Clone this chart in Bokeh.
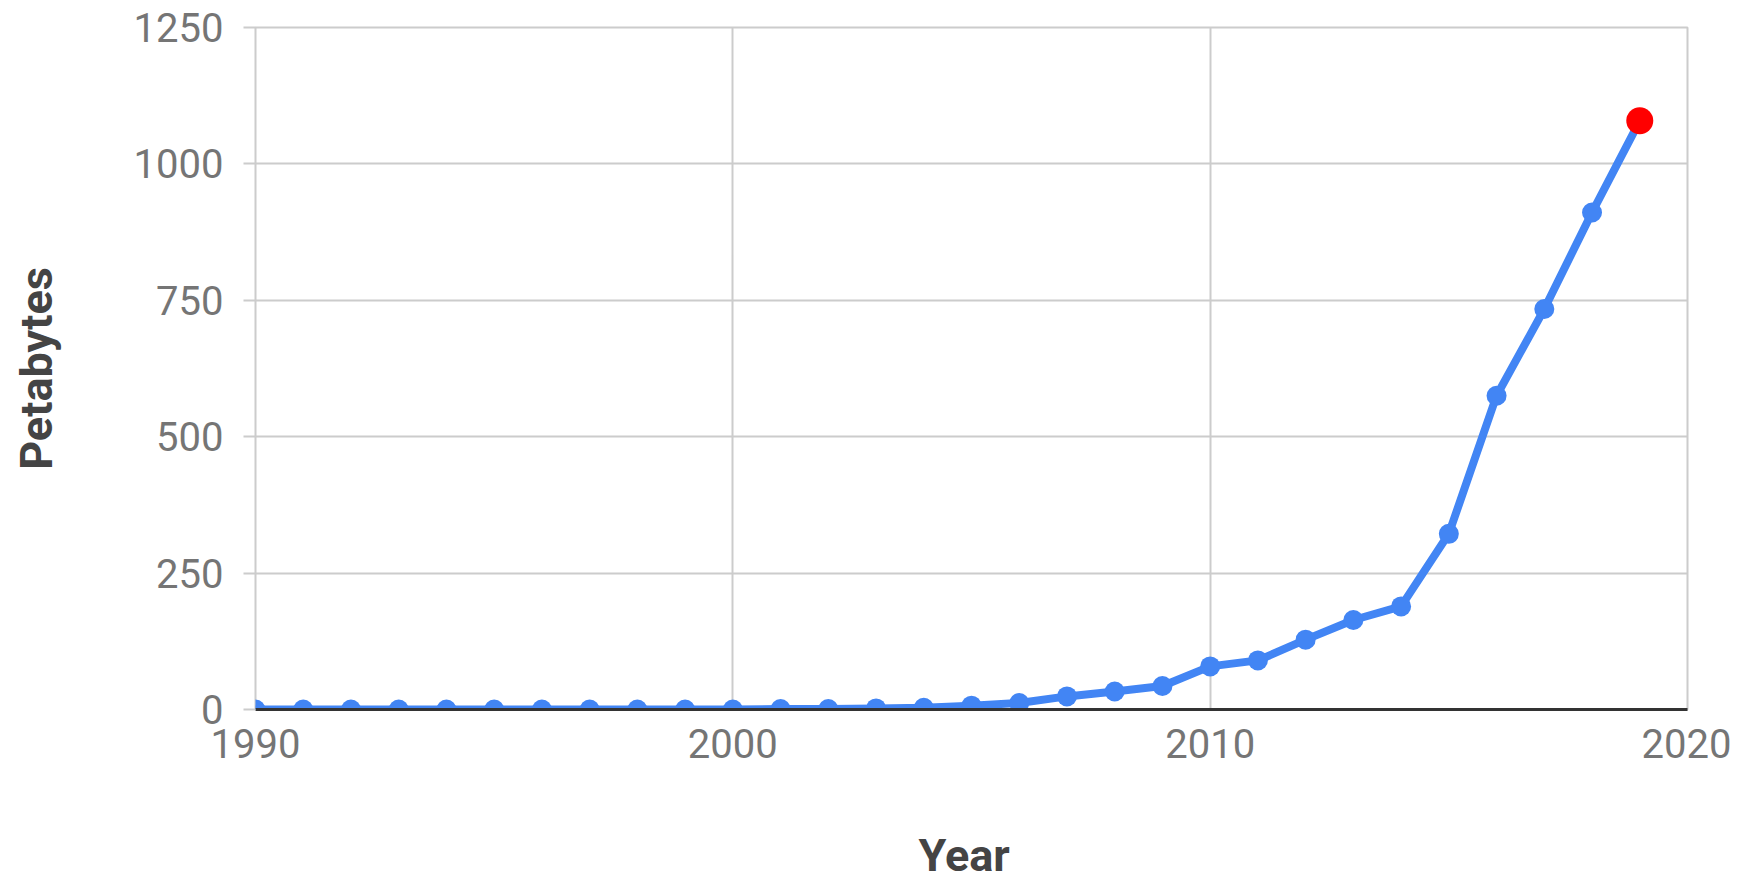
from bokeh.plotting import figure
from bokeh.models import Range1d, FixedTicker, Title, LinearAxis
from bokeh.embed import file_html
from bokeh.resources import INLINE

years = [1990, 1991, 1992, 1993, 1994, 1995, 1996, 1997, 1998, 1999,
         2000, 2001, 2002, 2003, 2004, 2005, 2006, 2007, 2008, 2009,
         2010, 2011, 2012, 2013, 2014, 2015, 2016, 2017, 2018, 2019]
petabytes = [0, 0, 0, 0, 0, 0, 0, 0, 0, 0,
             0, 1, 1, 2, 3, 7, 12, 24, 33, 43,
             79, 90, 128, 164, 189, 322, 575, 734, 911, 1079]
x_ticks = [1990, 2000, 2010, 2020]
y_ticks = [0, 250, 500, 750, 1000, 1250]
x_title = "Year"
y_title = "Petabytes"

FONT = "Roboto"
BLUE = "#4285F4"
RED = "#FF0000"
GRID = "#cccccc"

p = figure(frame_width=1432, frame_height=682, output_backend="svg",
           toolbar_location=None,
           x_range=Range1d(x_ticks[0], x_ticks[-1]),
           y_range=Range1d(y_ticks[0], y_ticks[-1]),
           min_border_left=255, min_border_right=44, min_border_top=27,
           min_border_bottom=183)
p.background_fill_color = "white"
p.border_fill_color = "white"
p.outline_line_color = GRID
p.outline_line_width = 2

# grids
p.xgrid.ticker = FixedTicker(ticks=x_ticks)
p.ygrid.ticker = FixedTicker(ticks=y_ticks)
for g in (p.xgrid[0], p.ygrid[0]):
    g.grid_line_color = GRID
    g.grid_line_width = 2

# x axis
xa = p.xaxis[0]
xa.ticker = FixedTicker(ticks=x_ticks)
xa.axis_line_color = "#333333"
xa.axis_line_width = 3
xa.major_tick_out = 0
xa.major_tick_in = 0
xa.minor_tick_out = 0
xa.minor_tick_in = 0
xa.major_label_standoff = 19
xa.major_label_text_font = FONT
xa.major_label_text_font_size = "40px"
xa.major_label_text_color = "#757575"

# y axis with tick labels
ya = p.yaxis[0]
ya.ticker = FixedTicker(ticks=y_ticks)
ya.axis_line_color = None
ya.major_tick_out = 12
ya.major_tick_in = 0
ya.major_tick_line_color = GRID
ya.major_tick_line_width = 2
ya.minor_tick_out = 0
ya.minor_tick_in = 0
ya.major_label_standoff = 20
ya.major_label_text_font = FONT
ya.major_label_text_font_size = "40px"
ya.major_label_text_color = "#757575"

# second (title-only) left axis; its bounds put the title a bit below
# the middle of the plot, as in the reference
ta = LinearAxis(ticker=FixedTicker(ticks=[]), bounds=(0, 1168),
                axis_line_color=None, major_tick_out=0, major_tick_in=0,
                minor_tick_out=0, minor_tick_in=0, major_label_standoff=0,
                axis_label=y_title, axis_label_standoff=68,
                axis_label_text_font=FONT, axis_label_text_font_style="bold",
                axis_label_text_font_size="45px",
                axis_label_text_color="#444444")
p.add_layout(ta, "left")

p.line(years, petabytes, line_color=BLUE, line_width=8, line_join="round")
p.scatter(years[:-1], petabytes[:-1], size=20, fill_color=BLUE, line_color=None)
p.scatter(years[-1:], petabytes[-1:], size=27, fill_color=RED, line_color=None)

# x title
p.add_layout(Title(text=x_title, align="left", offset=663, standoff=133,
                   text_font=FONT, text_font_style="bold",
                   text_font_size="45px", text_color="#444444"), "below")

open("out.html", "w").write(file_html(p, INLINE))
